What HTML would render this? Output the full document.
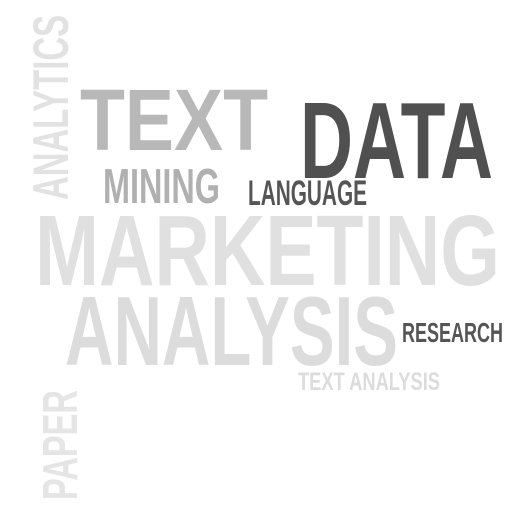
<!DOCTYPE html>
<html>
<head>
<meta charset="utf-8">
<style>
html,body{margin:0;padding:0;background:#fff;}
svg{display:block;}
text{font-family:"Liberation Sans",sans-serif;font-weight:bold;}
</style>
</head>
<body>
<svg width="512" height="512" viewBox="0 0 512 512">
<text transform="translate(68,200) rotate(-90)" x="0" y="0" font-size="50" fill="#e2e2e2" textLength="185" lengthAdjust="spacingAndGlyphs">ANALYTICS</text>
<text x="80" y="150" font-size="87" fill="#b8b8b8" textLength="188" lengthAdjust="spacingAndGlyphs">TEXT</text>
<text x="300" y="178" font-size="109" fill="#505050" textLength="193" lengthAdjust="spacingAndGlyphs">DATA</text>
<text x="103" y="203" font-size="49" fill="#b0b0b0" textLength="117" lengthAdjust="spacingAndGlyphs">MINING</text>
<text x="248" y="205" font-size="35" fill="#555555" textLength="119" lengthAdjust="spacingAndGlyphs">LANGUAGE</text>
<text x="35" y="285" font-size="100" fill="#e0e0e0" textLength="465" lengthAdjust="spacingAndGlyphs">MARKETING</text>
<text x="65" y="365" font-size="98" fill="#dcdcdc" textLength="333" lengthAdjust="spacingAndGlyphs">ANALYSIS</text>
<text x="402" y="342" font-size="28" fill="#555555" textLength="101" lengthAdjust="spacingAndGlyphs">RESEARCH</text>
<text x="298" y="390" font-size="25" fill="#dcdcdc" textLength="142" lengthAdjust="spacingAndGlyphs">TEXT ANALYSIS</text>
<text transform="translate(77,500) rotate(-90)" x="0" y="0" font-size="49" fill="#e5e5e5" textLength="110" lengthAdjust="spacingAndGlyphs">PAPER</text>
</svg>
</body>
</html>
